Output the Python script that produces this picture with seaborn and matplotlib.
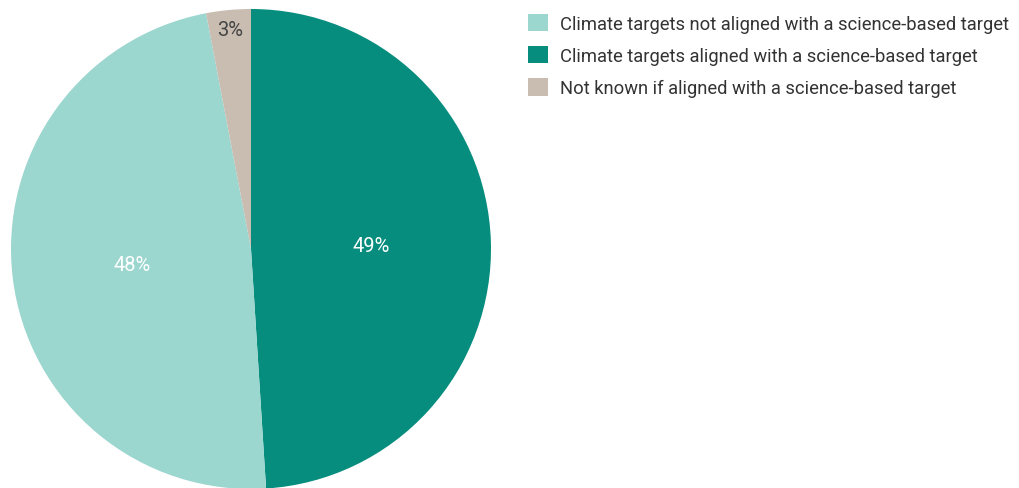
import seaborn as sns
import matplotlib.pyplot as plt
import numpy as np
from matplotlib.patches import Patch

sns.set_theme(style="white")
plt.rcParams['font.family'] = ['Roboto', 'DejaVu Sans']

# data
labels = ["Climate targets aligned with a science-based target",
          "Climate targets not aligned with a science-based target",
          "Not known if aligned with a science-based target"]
values = [49, 48, 3]
colors = ["#078d7e", "#9bd6cf", "#c9bdb2"]
text_colors = ["white", "white", "#444444"]
legend_order = [1, 0, 2]

fig = plt.figure(figsize=(10.2, 4.89), dpi=100)
ax = fig.add_axes([11 / 1020, -1 / 489, 480 / 1020, 480 / 489])

wedges, _ = ax.pie(values, colors=colors, startangle=90, counterclock=False,
                   wedgeprops=dict(linewidth=0))
ax.set_xlim(-1, 1)
ax.set_ylim(-1, 1)
ax.set_aspect("equal")

for w, v, tc in zip(wedges, values, text_colors):
    mid = np.deg2rad((w.theta1 + w.theta2) / 2)
    r = 0.5 if v > 10 else 0.92
    ax.text(r * np.cos(mid), r * np.sin(mid), f"{v}%", ha="center", va="center",
            color=tc, fontsize=14.5)

handles = [Patch(facecolor=colors[i], edgecolor="none") for i in legend_order]
fig.legend(handles, [labels[i] for i in legend_order], loc="upper left",
           bbox_to_anchor=(511 / 1020, 1 + 2 / 489), frameon=False, fontsize=13.2,
           handlelength=1.1, handleheight=1.1, labelspacing=0.72, handletextpad=0.65,
           labelcolor="#333333")

fig.savefig("out.png", dpi=100)
